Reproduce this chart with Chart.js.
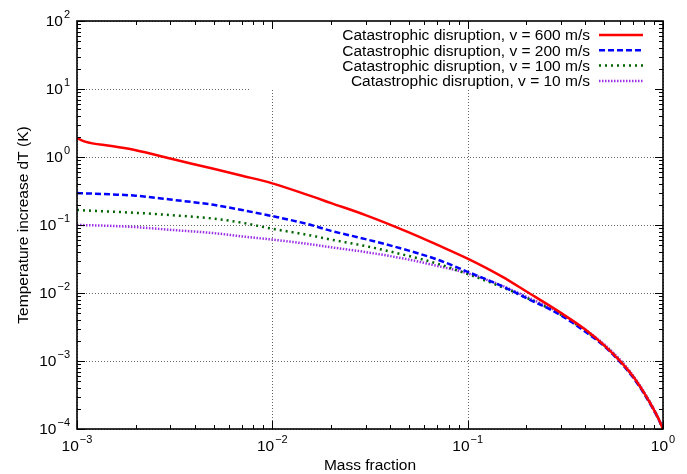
<!DOCTYPE html>
<html>
<head>
<meta charset="utf-8">
<script src="https://cdn.jsdelivr.net/npm/chart.js@4/dist/chart.umd.min.js"></script>
<style>
  html, body { margin: 0; padding: 0; background: #fff; }
  #wrap { width: 687px; height: 474px; }
</style>
</head>
<body>
<div id="wrap"><canvas id="tempChart" width="687" height="474"></canvas></div>
<script>
// mass fraction (x) shared by all curves
var massFraction = [0.001, 0.0011, 0.0015, 0.002, 0.003, 0.005, 0.007, 0.01, 0.015, 0.02, 0.03, 0.05, 0.07,
    0.1, 0.15, 0.2, 0.3, 0.4, 0.5, 0.6, 0.7, 0.8, 0.9, 0.95, 1.0];

// temperature increase dT (K)
var dT600 = [1.9, 1.68, 1.45, 1.26, 0.95, 0.67, 0.53, 0.41, 0.28, 0.21, 0.14, 0.078, 0.051,
    0.032, 0.0174, 0.0105, 0.0051, 0.0029, 0.0017, 0.00101, 0.0006, 0.00034, 0.00019, 0.00014, 0.0001];
var dT200 = [0.295, 0.292, 0.282, 0.27, 0.237, 0.198, 0.166, 0.135, 0.104, 0.082, 0.062, 0.042, 0.031,
    0.0205, 0.0126, 0.0084, 0.0047, 0.0027, 0.00165, 0.00098, 0.00058, 0.00033, 0.000185, 0.000138, 0.0001];
var dT100 = [0.166, 0.164, 0.157, 0.151, 0.14, 0.124, 0.108, 0.088, 0.072, 0.061, 0.049, 0.035, 0.027,
    0.019, 0.0122, 0.0085, 0.0048, 0.0028, 0.0017, 0.00102, 0.0006, 0.00034, 0.00019, 0.00014, 0.0001];
var dT10 = [0.1, 0.0995, 0.097, 0.093, 0.085, 0.076, 0.068, 0.061, 0.053, 0.047, 0.04, 0.031, 0.025,
    0.0195, 0.0128, 0.0088, 0.005, 0.0029, 0.00176, 0.00106, 0.00062, 0.00035, 0.000195, 0.000142, 0.0001];

var seriesLabels = ['Catastrophic disruption, v = 600 m/s', 'Catastrophic disruption, v = 200 m/s',
    'Catastrophic disruption, v = 100 m/s', 'Catastrophic disruption, v = 10 m/s'];

// tick exponents (labels are 10^n)
var xExponents = [-3, -2, -1, 0];
var yExponents = [-4, -3, -2, -1, 0, 1, 2];

var FONT = "'Liberation Sans', Arial, Helvetica, sans-serif";

function pts(ys) {
    return massFraction.map(function (x, i) { return { x: x, y: ys[i] }; });
}

function drawPow(ctx, exp, x, y, align) {
    // "10" with superscript exponent; y = vertical centre of the "10"
    var supTxt = String(exp).replace('-', '\u2212');
    ctx.font = '15.5px ' + FONT;
    var base = ctx.measureText('10').width;
    ctx.font = '11px ' + FONT;
    var sup = ctx.measureText(supTxt).width;
    var total = base + sup + 1;
    var left = align === 'right' ? x - total : x - total / 2;
    ctx.textAlign = 'left';
    ctx.textBaseline = 'middle';
    ctx.fillStyle = '#000';
    ctx.font = '15.5px ' + FONT;
    ctx.fillText('10', left, y + 1);
    ctx.font = '11px ' + FONT;
    ctx.fillText(supTxt, left + base + 1, y - 6);
}

var gnuplotFrame = {
    id: 'gnuplotFrame',
    beforeDatasetsDraw: function (chart) {
        var ctx = chart.ctx, a = chart.chartArea;
        var xs = chart.scales.x, ys = chart.scales.y;
        ctx.save();
        ctx.strokeStyle = '#666';
        ctx.lineWidth = 1;
        ctx.setLineDash([1, 2]);
        xExponents.forEach(function (e) {
            var px = Math.round(xs.getPixelForValue(Math.pow(10, e))) + 0.5;
            ctx.beginPath(); ctx.moveTo(px, a.top); ctx.lineTo(px, a.bottom); ctx.stroke();
        });
        yExponents.forEach(function (e) {
            var py = Math.round(ys.getPixelForValue(Math.pow(10, e))) + 0.5;
            ctx.beginPath(); ctx.moveTo(a.left, py); ctx.lineTo(a.right, py); ctx.stroke();
        });
        ctx.setLineDash([]);
        // legend box blanks the grid behind it
        ctx.fillStyle = '#fff';
        ctx.fillRect(250, a.top, a.right - 250, 90 - a.top);
        ctx.restore();
    },
    afterDatasetsDraw: function (chart) {
        var ctx = chart.ctx, a = chart.chartArea;
        var xs = chart.scales.x, ys = chart.scales.y;
        ctx.save();
        ctx.strokeStyle = '#000';
        ctx.lineWidth = 1;
        // minor + major inner ticks on all four sides
        for (var e = -3; e <= 0; e++) {
            for (var m = 1; m <= 9; m++) {
                var v = m * Math.pow(10, e);
                if (v > 1) break;
                var px = Math.round(xs.getPixelForValue(v)) + 0.5;
                var len = m === 1 ? 8 : 4;
                ctx.beginPath();
                ctx.moveTo(px, a.bottom); ctx.lineTo(px, a.bottom - len);
                ctx.moveTo(px, a.top); ctx.lineTo(px, a.top + len);
                ctx.stroke();
            }
        }
        for (var e2 = -4; e2 <= 2; e2++) {
            for (var m2 = 1; m2 <= 9; m2++) {
                var v2 = m2 * Math.pow(10, e2);
                if (v2 > 100) break;
                var py = Math.round(ys.getPixelForValue(v2)) + 0.5;
                var len2 = m2 === 1 ? 8 : 4;
                ctx.beginPath();
                ctx.moveTo(a.left, py); ctx.lineTo(a.left + len2, py);
                ctx.moveTo(a.right, py); ctx.lineTo(a.right - len2, py);
                ctx.stroke();
            }
        }
        // border
        ctx.lineWidth = 1.6;
        ctx.strokeRect(a.left, a.top, a.right - a.left, a.bottom - a.top);

        // tick labels
        xExponents.forEach(function (e) {
            drawPow(ctx, e, xs.getPixelForValue(Math.pow(10, e)), a.bottom + 17, 'center');
        });
        yExponents.forEach(function (e) {
            drawPow(ctx, e, a.left - 7, ys.getPixelForValue(Math.pow(10, e)), 'right');
        });

        // axis titles
        ctx.fillStyle = '#000';
        ctx.font = '15.5px ' + FONT;
        ctx.textAlign = 'center';
        ctx.textBaseline = 'alphabetic';
        ctx.fillText('Mass fraction', (a.left + a.right) / 2, 470);
        ctx.save();
        ctx.translate(28, (a.top + a.bottom) / 2);
        ctx.rotate(-Math.PI / 2);
        ctx.fillText('Temperature increase dT (K)', 0, 0);
        ctx.restore();

        // legend (top right, inside plot)
        chart.data.datasets.forEach(function (ds, i) {
            var cy = 35 + i * 15.3;
            ctx.font = '15.5px ' + FONT;
            ctx.textAlign = 'right';
            ctx.textBaseline = 'middle';
            ctx.fillStyle = '#000';
            ctx.fillText(ds.label, 590, cy + 1);
            ctx.strokeStyle = ds.borderColor;
            ctx.lineWidth = ds.borderWidth;
            ctx.setLineDash(ds.borderDash || []);
            ctx.beginPath(); ctx.moveTo(599, cy); ctx.lineTo(643, cy); ctx.stroke();
            ctx.setLineDash([]);
        });
        ctx.restore();
    }
};

var ctx = document.getElementById('tempChart').getContext('2d');
var myChart = new Chart(ctx, {
    type: 'line',
    data: {
        datasets: [{
            label: seriesLabels[0],
            data: pts(dT600),
            borderColor: '#ff0000',
            borderWidth: 2.5
        }, {
            label: seriesLabels[1],
            data: pts(dT200),
            borderColor: '#0000ff',
            borderWidth: 2.5,
            borderDash: [6, 3]
        }, {
            label: seriesLabels[2],
            data: pts(dT100),
            borderColor: '#006400',
            borderWidth: 2.5,
            borderDash: [2, 4]
        }, {
            label: seriesLabels[3],
            data: pts(dT10),
            borderColor: '#9b30e6',
            borderWidth: 2.5,
            borderDash: [1.5, 1.5]
        }]
    },
    options: {
        responsive: false,
        animation: false,
        layout: { padding: { left: 77, top: 21, right: 24, bottom: 45 } },
        elements: { point: { radius: 0 }, line: { cubicInterpolationMode: 'monotone', fill: false } },
        plugins: { legend: { display: false }, tooltip: { enabled: false } },
        scales: {
            x: { type: 'logarithmic', min: 0.001, max: 1, display: false },
            y: { type: 'logarithmic', min: 0.0001, max: 100, display: false }
        }
    },
    plugins: [gnuplotFrame]
});
</script>
</body>
</html>
